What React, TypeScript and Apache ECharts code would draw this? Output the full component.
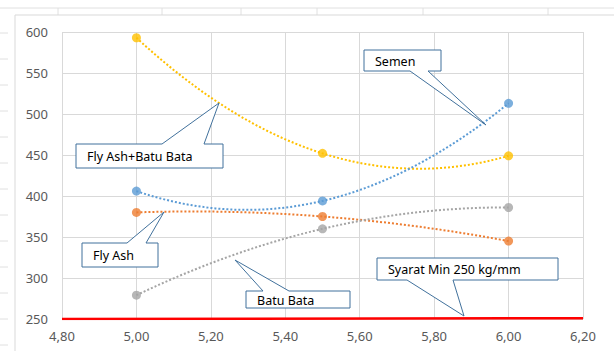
import React, { useEffect, useRef } from "react";
import * as echarts from "echarts";

// ---- data ----
const xValues = [5.0, 5.5, 6.0];
const flyAshBatuBata = [593, 452, 449];
const semen = [406, 394, 513];
const flyAsh = [380, 375, 345];
const batuBata = [279, 360, 386];
const syaratX = [4.8, 6.2];
const syaratY = [250, 251];

const seriesDefs = [
  { name: "Fly Ash+Batu Bata", values: flyAshBatuBata, color: "#FFC000" },
  { name: "Semen", values: semen, color: "#5B9BD5" },
  { name: "Fly Ash", values: flyAsh, color: "#ED7D31" },
  { name: "Batu Bata", values: batuBata, color: "#A5A5A5" },
];

// polynomial (order 2) trendline through the points
function quad(xs: number[], ys: number[], x: number) {
  let s = 0;
  for (let i = 0; i < xs.length; i++) {
    let p = ys[i];
    for (let j = 0; j < xs.length; j++) {
      if (j !== i) p *= (x - xs[j]) / (xs[i] - xs[j]);
    }
    s += p;
  }
  return s;
}

const BOX = "#41719C";

function callout(
  label: string,
  l: number,
  t: number,
  r: number,
  b: number,
  side: "top" | "bottom",
  a1: number,
  a2: number,
  tip: [number, number]
) {
  const pts =
    side === "top"
      ? [[l, t], [a1, t], tip, [a2, t], [r, t], [r, b], [l, b]]
      : [[l, t], [r, t], [r, b], [a2, b], tip, [a1, b], [l, b]];
  return [
    {
      type: "polygon",
      shape: { points: pts },
      style: { fill: "#ffffff", stroke: BOX, lineWidth: 1 },
      z: 100,
    },
    {
      type: "text",
      x: l + 11,
      y: (t + b) / 2 + 0.5,
      style: {
        text: label,
        fill: "#000000",
        font: "12.5px 'Noto Sans'",
        verticalAlign: "middle",
        align: "left",
      },
      z: 101,
    },
  ];
}

export default function App() {
  const ref = useRef<HTMLDivElement>(null);
  useEffect(() => {
    document.body.style.margin = "0";
    const chart = echarts.init(ref.current!, null, { renderer: "svg" });

    const trendSeries = seriesDefs.map((d) => ({
      type: "custom",
      name: d.name + " trend",
      data: xValues.map((x, i) => [x, d.values[i]]),
      encode: { x: 0, y: 1 },
      z: 3,
      renderItem: (params: any, api: any) => {
        if (params.dataIndex !== 0) return null;
        const pts: number[][] = [];
        const x0 = xValues[0];
        const x1 = xValues[xValues.length - 1];
        const N = 80;
        for (let k = 0; k <= N; k++) {
          const x = x0 + ((x1 - x0) * k) / N;
          pts.push(api.coord([x, quad(xValues, d.values, x)]));
        }
        return {
          type: "polyline",
          shape: { points: pts },
          style: { stroke: d.color, lineWidth: 2, lineDash: [2, 2], fill: null },
        };
      },
    }));

    const pointSeries = seriesDefs.map((d) => ({
      type: "scatter",
      name: d.name,
      data: xValues.map((x, i) => [x, d.values[i]]),
      symbolSize: 9,
      itemStyle: { color: d.color },
      z: 5,
    }));

    const rowLines: any[] = [];
    for (let y = 33; y < 351; y += 26) {
      rowLines.push({
        type: "line",
        shape: { x1: 0, y1: y, x2: 8, y2: y },
        style: { stroke: "#E0E0E0", lineWidth: 1 },
      });
    }
    const colX = [58, 162, 241, 317, 423, 548];
    const colLines = colX.map((x) => ({
      type: "line",
      shape: { x1: x, y1: 8, x2: x, y2: 15 },
      style: { stroke: "#E0E0E0", lineWidth: 1 },
    }));

    chart.setOption({
      animation: false,
      backgroundColor: "#ffffff",
      grid: { left: 62, right: 31, top: 32, bottom: 32, containLabel: false },
      xAxis: {
        type: "value",
        min: 4.8,
        max: 6.2,
        interval: 0.2,
        axisLine: { show: false },
        axisTick: { show: false },
        splitLine: { show: true, lineStyle: { color: "#D9D9D9", width: 1 } },
        axisLabel: {
          color: "#595959",
          fontSize: 13,
          fontFamily: "Noto Sans",
          margin: 10,
          formatter: (v: number) => v.toFixed(2).replace(".", ","),
        },
      },
      yAxis: {
        type: "value",
        min: 250,
        max: 600,
        interval: 50,
        axisLine: { show: false },
        axisTick: { show: false },
        splitLine: { show: true, lineStyle: { color: "#D9D9D9", width: 1 } },
        axisLabel: {
          color: "#595959",
          fontSize: 13,
          fontFamily: "Noto Sans",
          margin: 14,
        },
      },
      series: [
        ...trendSeries,
        ...pointSeries,
        {
          type: "line",
          name: "Syarat Min 250 kg/mm",
          data: syaratX.map((x, i) => [x, syaratY[i]]),
          showSymbol: false,
          symbol: "none",
          lineStyle: { color: "#FF0000", width: 2.5 },
          z: 6,
        },
      ],
      graphic: [
        {
          type: "line",
          shape: { x1: 0, y1: 8, x2: 614, y2: 8 },
          style: { stroke: "#E0E0E0", lineWidth: 1 },
        },
        ...colLines,
        ...rowLines,
        {
          type: "polyline",
          shape: { points: [[15, 351], [15, 15], [614, 15]] },
          style: { stroke: "#D9D9D9", lineWidth: 1, fill: null },
        },
        ...callout("Fly Ash+Batu Bata", 76, 144, 223, 168, "top", 162, 204, [219, 103]),
        ...callout("Semen", 364, 50, 441, 71, "bottom", 410, 428, [486, 125]),
        ...callout("Fly Ash", 82, 243, 158, 267, "top", 127, 146, [164, 212]),
        ...callout("Batu Bata", 246, 291, 350, 308, "top", 263, 289, [235, 260]),
        ...callout("Syarat Min 250 kg/mm", 377, 258, 558, 280, "bottom", 407, 453, [464, 316]),
      ],
    });
    return () => chart.dispose();
  }, []);
  return <div ref={ref} style={{ width: 614, height: 351 }} />;
}
